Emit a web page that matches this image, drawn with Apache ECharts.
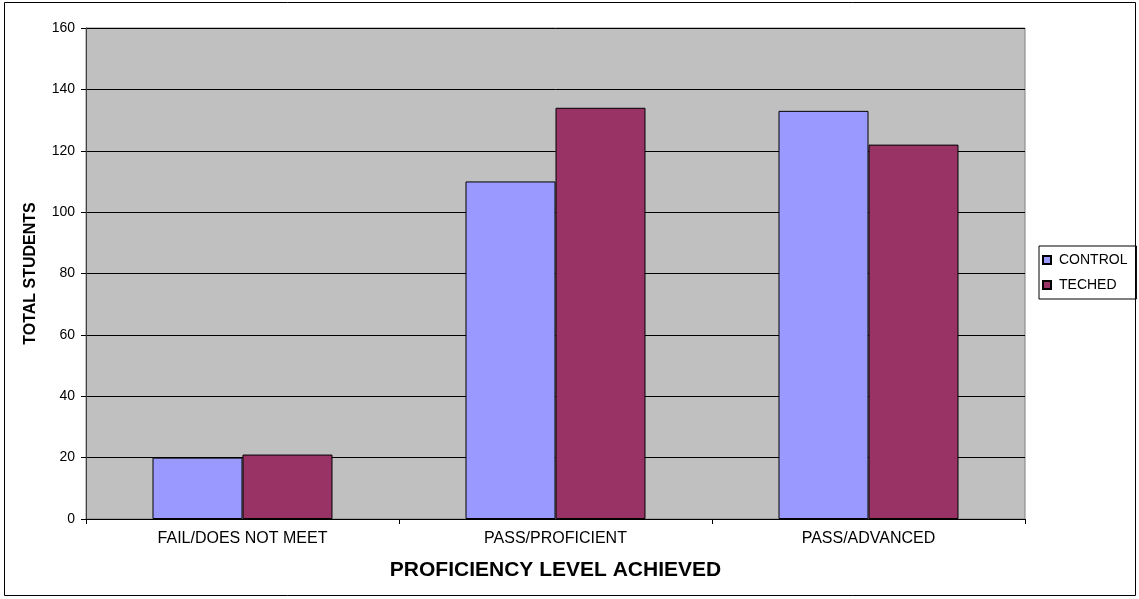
<!DOCTYPE html>
<html><head><meta charset="utf-8">
<script src="https://cdn.jsdelivr.net/npm/echarts@6/dist/echarts.min.js"></script>
<style>html,body{margin:0;padding:0;background:#fff}#c{width:1139px;height:599px}</style>
</head><body><div id="c"></div>
<script>
const categories = ['FAIL/DOES NOT MEET', 'PASS/PROFICIENT', 'PASS/ADVANCED'];
const controlValues = [20, 110, 133];
const techedValues = [21, 134, 122];
const seriesNames = ['CONTROL', 'TECHED'];

const chart = echarts.init(document.getElementById('c'));
const font = 'Liberation Sans, Arial, sans-serif';
chart.setOption({
  animation: false,
  backgroundColor: '#fff',
  textStyle: { fontFamily: font },
  graphic: [
    { type: 'rect', shape: { x: 4.5, y: 2.5, width: 1131, height: 593 }, style: { fill: 'none', stroke: '#000', lineWidth: 1 }, z: -1 },
    { type: 'rect', shape: { x: 86, y: 28, width: 939, height: 491 }, style: { fill: '#c0c0c0', stroke: '#808080', lineWidth: 1 }, z: -1 }
  ],
  grid: { left: 86, top: 28, width: 939, height: 491, containLabel: false },
  legend: {
    orient: 'vertical', left: 1039, top: 246,
    data: seriesNames,
    itemWidth: 8, itemHeight: 8, itemGap: 11,
    borderColor: '#000', borderWidth: 1, padding: [7, 9, 7, 3],
    textStyle: { fontFamily: font, fontSize: 14, color: '#000', padding: [0, 0, 0, 3] },
    icon: 'rect'
  },
  xAxis: {
    type: 'category', data: categories,
    name: 'PROFICIENCY LEVEL ACHIEVED', nameLocation: 'middle', nameGap: 41,
    nameTextStyle: { fontFamily: font, fontSize: 21, fontWeight: 'bold', color: '#000' },
    axisLine: { lineStyle: { color: '#000', width: 1 } },
    axisTick: { show: true, length: 5, lineStyle: { color: '#000' }, alignWithLabel: false },
    axisLabel: { fontFamily: font, fontSize: 16, color: '#000', margin: 12 }
  },
  yAxis: {
    type: 'value', min: 0, max: 160, interval: 20,
    name: 'TOTAL STUDENTS', nameLocation: 'middle', nameGap: 47, nameRotate: 90,
    nameTextStyle: { fontFamily: font, fontSize: 16, fontWeight: 'bold', color: '#000' },
    axisLine: { show: true, lineStyle: { color: '#404040', width: 1 } },
    axisTick: { show: true, length: 5, lineStyle: { color: '#000' } },
    axisLabel: { fontFamily: font, fontSize: 14, color: '#000', margin: 11 },
    splitLine: { show: true, lineStyle: { color: '#000', width: 1 } }
  },
  series: [
    { name: seriesNames[0], type: 'bar', data: controlValues, barGap: '0%', barCategoryGap: '42.5%',
      itemStyle: { color: '#9999ff', borderColor: '#000', borderWidth: 1 } },
    { name: seriesNames[1], type: 'bar', data: techedValues, barGap: '0%', barCategoryGap: '42.5%',
      itemStyle: { color: '#993366', borderColor: '#000', borderWidth: 1 } }
  ]
});
</script></body></html>
